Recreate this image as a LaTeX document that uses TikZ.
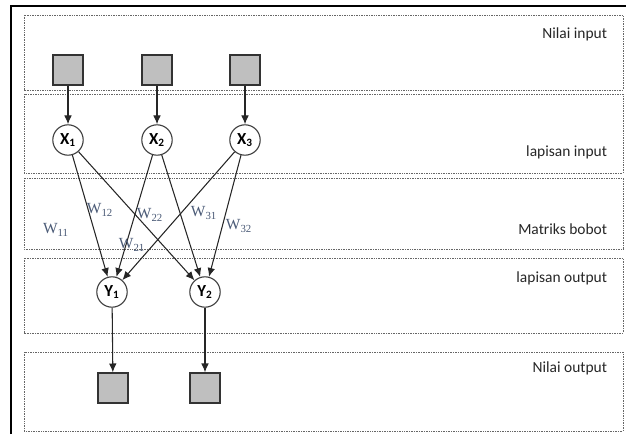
\documentclass[tikz,border=0pt]{standalone}
\usepackage{fontspec}
\setmainfont{Carlito}
\newfontfamily\wfont{Liberation Serif}
\usepackage{xcolor}
\usetikzlibrary{positioning,arrows.meta}

\definecolor{boxgray}{HTML}{BFBFBF}
\definecolor{wblue}{HTML}{4A5A76}

\begin{document}
\begin{tikzpicture}[
  inbox/.style={draw=black!80, line width=1pt, fill=boxgray, minimum size=0.75cm, inner sep=0pt},
  neuron/.style={circle, draw=black!75, line width=0.8pt, fill=white, minimum size=0.76cm, inner sep=0pt, font=\fontsize{12pt}{14pt}\selectfont\bfseries},
  band/.style={draw=black!60, line width=0.6pt, dash pattern=on 0.6pt off 0.6pt},
  layer/.style={anchor=east, font=\fontsize{11pt}{13pt}\selectfont, text=black!85},
  wlabel/.style={text=wblue, font=\wfont\fontsize{11pt}{13pt}\selectfont},
  conn/.style={-{Latex[length=0.22cm, width=0.19cm]}, draw=black!85, line width=0.75pt}
]
  \useasboundingbox (0,0) rectangle (15.65,10.85);

  % Frame
  \draw[line width=2pt] (0.275,0) -- (0.275,10.7) -- (15.65,10.7);

  % Layer bands
  \draw[band] (0.6,10.475) rectangle (15.575,8.6);
  \draw[band] (0.6,8.5) rectangle (15.575,6.525);
  \draw[band] (0.6,6.4) rectangle (15.575,4.625);
  \draw[band] (0.6,4.4) rectangle (15.575,2.525);
  \draw[band] (0.6,2.05) rectangle (15.575,0.075);

  % Layer names
  \node[layer] (tNin) at (15.3,10.0) {Nilai input};
  \node[layer] (tLin) at (15.3,7.05) {lapisan input};
  \node[layer] (tMat) at (15.3,5.125) {Matriks bobot};
  \node[layer] (tLout) at (15.3,3.9) {lapisan output};
  \node[layer] (tNout) at (15.3,1.65) {Nilai output};

  % Input values
  \node[inbox] (in1) at (1.7,9.1) {};
  \node[inbox] (in2) at (3.925,9.1) {};
  \node[inbox] (in3) at (6.125,9.1) {};

  % Input layer
  \node[neuron] (x1) at (1.7,7.35) {X\textsubscript{1}};
  \node[neuron] (x2) at (3.925,7.35) {X\textsubscript{2}};
  \node[neuron] (x3) at (6.125,7.35) {X\textsubscript{3}};

  % Output layer
  \node[neuron] (y1) at (2.8,3.55) {Y\textsubscript{1}};
  \node[neuron] (y2) at (5.125,3.55) {Y\textsubscript{2}};

  % Output values
  \node[inbox] (out1) at (2.825,1.15) {};
  \node[inbox] (out2) at (5.125,1.15) {};

  % Connections
  \draw[conn] (in1) -- (x1);
  \draw[conn] (in2) -- (x2);
  \draw[conn] (in3) -- (x3);
  \draw[conn] (x1) -- (y1);
  \draw[conn] (x1) -- (y2);
  \draw[conn] (x2) -- (y1);
  \draw[conn] (x2) -- (y2);
  \draw[conn] (x3) -- (y1);
  \draw[conn] (x3) -- (y2);
  \draw[conn] (y1) -- (out1);
  \draw[conn] (y2) -- (out2);

  % Weights
  \node[wlabel] (w11) at (1.4,5.1) {W\textsubscript{11}};
  \node[wlabel] (w12) at (2.5,5.6) {W\textsubscript{12}};
  \node[wlabel] (w22) at (3.75,5.475) {W\textsubscript{22}};
  \node[wlabel] (w31) at (5.1,5.525) {W\textsubscript{31}};
  \node[wlabel] (w32) at (5.975,5.2) {W\textsubscript{32}};
  \node[wlabel] (w21) at (3.3,4.725) {W\textsubscript{21}};
\end{tikzpicture}
\end{document}
